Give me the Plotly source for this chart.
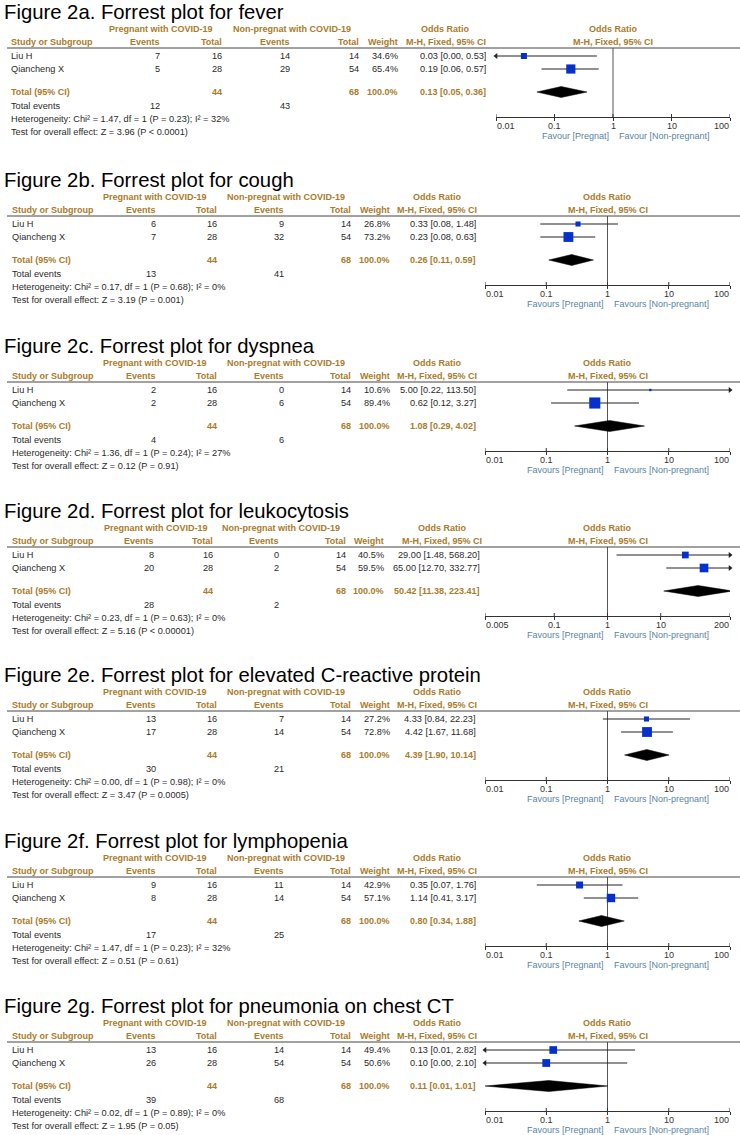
import math
import plotly.graph_objects as go

W, H = 740, 1135
FONT = "Liberation Sans, Arial, sans-serif"
BODY = "#2a2a2a"
HEAD = "#A97B2C"
FAV = "#5A84A6"
BLUE = "#0530CC"

# ---------------- data ----------------
titles = [
    "Figure 2a. Forrest plot for fever",
    "Figure 2b. Forrest plot for cough",
    "Figure 2c. Forrest plot for dyspnea",
    "Figure 2d. Forrest plot for leukocytosis",
    "Figure 2e. Forrest plot for elevated C-reactive protein",
    "Figure 2f. Forrest plot for lymphopenia",
    "Figure 2g. Forrest plot for pneumonia on chest CT",
]
studies = ["Liu H", "Qiancheng X"]
preg_events = [[7, 5], [6, 7], [2, 2], [8, 20], [13, 17], [9, 8], [13, 26]]
preg_total = [[16, 28], [16, 28], [16, 28], [16, 28], [16, 28], [16, 28], [16, 28]]
np_events = [[14, 29], [9, 32], [0, 6], [0, 2], [7, 14], [11, 14], [14, 54]]
np_total = [[14, 54], [14, 54], [14, 54], [14, 54], [14, 54], [14, 54], [14, 54]]
weights = [[34.6, 65.4], [26.8, 73.2], [10.6, 89.4], [40.5, 59.5],
           [27.2, 72.8], [42.9, 57.1], [49.4, 50.6]]
or_val = [[0.03, 0.19], [0.33, 0.23], [5.00, 0.62], [29.00, 65.00],
          [4.33, 4.42], [0.35, 1.14], [0.13, 0.10]]
ci_low = [[0.00, 0.06], [0.08, 0.08], [0.22, 0.12], [1.48, 12.70],
          [0.84, 1.67], [0.07, 0.41], [0.01, 0.00]]
ci_high = [[0.53, 0.57], [1.48, 0.63], [113.50, 3.27], [568.20, 332.77],
           [22.23, 11.68], [1.76, 3.17], [2.82, 2.10]]
sum_preg_total = [44, 44, 44, 44, 44, 44, 44]
sum_np_total = [68, 68, 68, 68, 68, 68, 68]
tot_events_preg = [12, 13, 4, 28, 30, 17, 39]
tot_events_np = [43, 41, 6, 2, 21, 25, 68]
tot_or = [0.13, 0.26, 1.08, 50.42, 4.39, 0.80, 0.11]
tot_low = [0.05, 0.11, 0.29, 11.38, 1.90, 0.34, 0.01]
tot_high = [0.36, 0.59, 4.02, 223.41, 10.14, 1.88, 1.01]
heterogeneity = [
    "Heterogeneity: Chi² = 1.47, df = 1 (P = 0.23); I² = 32%",
    "Heterogeneity: Chi² = 0.17, df = 1 (P = 0.68); I² = 0%",
    "Heterogeneity: Chi² = 1.36, df = 1 (P = 0.24); I² = 27%",
    "Heterogeneity: Chi² = 0.23, df = 1 (P = 0.63); I² = 0%",
    "Heterogeneity: Chi² = 0.00, df = 1 (P = 0.98); I² = 0%",
    "Heterogeneity: Chi² = 1.47, df = 1 (P = 0.23); I² = 32%",
    "Heterogeneity: Chi² = 0.02, df = 1 (P = 0.89); I² = 0%",
]
overall = [
    "Test for overall effect: Z = 3.96 (P &lt; 0.0001)",
    "Test for overall effect: Z = 3.19 (P = 0.001)",
    "Test for overall effect: Z = 0.12 (P = 0.91)",
    "Test for overall effect: Z = 5.16 (P &lt; 0.00001)",
    "Test for overall effect: Z = 3.47 (P = 0.0005)",
    "Test for overall effect: Z = 0.51 (P = 0.61)",
    "Test for overall effect: Z = 1.95 (P = 0.05)",
]
group1_label = ["Pregnant with COVID-19"] * 7
group2_label = ["Non-pregnat with COVID-19"] * 7
fav_left = ["Favour [Pregnat]"] + ["Favours [Pregnant]"] * 6
fav_right = ["Favour [Non-pregnant]"] + ["Favours [Non-pregnant]"] * 6
tick_vals = [[0.01, 0.1, 1, 10, 100]] * 3 + [[0.005, 0.1, 1, 10, 200]] + [[0.01, 0.1, 1, 10, 100]] * 3
tick_text = [["0.01", "0.1", "1", "10", "100"]] * 3 + [["0.005", "0.1", "1", "10", "200"]] + [["0.01", "0.1", "1", "10", "100"]] * 3

# ---------------- layout helpers ----------------
rule_y = [48, 216, 382, 547, 711, 877, 1042]
COLS_A = dict(study=10, g1=161, ev1=161, tot1=223, g2=292, ev2=291, tot2=360,
              wt=399, orc=446, orr=487, plot=(496, 730))
COLS_B = dict(study=11, g1=155, ev1=157, tot1=218, g2=286, ev2=285, tot2=352,
              wt=391, orc=437, orr=477, plot=(485, 730))
COLS_D = dict(COLS_B, g1=156, ev1=155, tot1=214, g2=281, ev2=280, tot2=347,
              wt=385, orc=442, orr=481)
PH = 69  # plot height in px (rule -> axis)

annotations = []
shapes = []
traces = []


def txt(x, y, s, anchor="left", bold=False, color=BODY, size=9.2, xref="paper"):
    annotations.append(dict(
        x=(x / W) if xref == "paper" else x, y=1 - y / H,
        xref=xref, yref="paper", text=(f"<b>{s}</b>" if bold else s),
        showarrow=False, xanchor=anchor, yanchor="middle", borderpad=0,
        font=dict(family=FONT, size=size, color=color)))


def fmt_ci(o, l, h):
    return f"{o:.2f} [{l:.2f}, {h:.2f}]"


layout_axes = {}
for k in range(7):
    R = rule_y[k]
    c = COLS_A if k == 0 else (COLS_D if k == 3 else COLS_B)
    sfx = "" if k == 0 else str(k + 1)
    xr, yr = "x" + sfx, "y" + sfx
    lo, hi = tick_vals[k][0], tick_vals[k][-1]

    # title + headers
    txt(3, R - 36, titles[k], size=20.3, color="#000")
    txt(c["g1"], R - 19, group1_label[k], "center", True, HEAD, 9)
    txt(c["g2"], R - 19, group2_label[k], "center", True, HEAD, 9)
    txt(c["orc"], R - 19, "Odds Ratio", "center", True, HEAD, 9)
    txt(c["study"], R - 6, "Study or Subgroup", "left", True, HEAD, 9)
    txt(c["ev1"], R - 6, "Events", "right", True, HEAD, 9)
    txt(c["tot1"], R - 6, "Total", "right", True, HEAD, 9)
    txt(c["ev2"], R - 6, "Events", "right", True, HEAD, 9)
    txt(c["tot2"], R - 6, "Total", "right", True, HEAD, 9)
    txt(c["wt"], R - 6, "Weight", "right", True, HEAD, 9)
    txt(c["orc"], R - 6, "M-H, Fixed, 95% CI", "center", True, HEAD, 9)
    # plot headers centred on OR = 1
    txt(0, R - 19, "Odds Ratio", "center", True, HEAD, 9, xref=xr)
    txt(0, R - 6, "M-H, Fixed, 95% CI", "center", True, HEAD, 9, xref=xr)

    shapes.append(dict(type="line", xref="paper", yref="paper", x0=7 / W, x1=1,
                       y0=1 - R / H, y1=1 - R / H, line=dict(color="#444", width=1)))

    # study rows
    row_y = [8, 21]
    for i in range(2):
        y = R + row_y[i]
        txt(c["study"], y, studies[i])
        txt(c["ev1"], y, str(preg_events[k][i]), "right")
        txt(c["tot1"], y, str(preg_total[k][i]), "right")
        txt(c["ev2"], y, str(np_events[k][i]), "right")
        txt(c["tot2"], y, str(np_total[k][i]), "right")
        txt(c["wt"], y, f"{weights[k][i]:.1f}%", "right")
        txt(c["orr"], y, fmt_ci(or_val[k][i], ci_low[k][i], ci_high[k][i]), "right")

    # totals
    yT = R + 44
    txt(c["study"], yT, "Total (95% CI)", "left", True, HEAD, 9)
    txt(c["tot1"], yT, str(sum_preg_total[k]), "right", True, HEAD, 9)
    txt(c["tot2"], yT, str(sum_np_total[k]), "right", True, HEAD, 9)
    txt(c["wt"], yT, "100.0%", "right", True, HEAD, 9)
    txt(c["orr"], yT, fmt_ci(tot_or[k], tot_low[k], tot_high[k]), "right", True, HEAD, 9)
    txt(c["study"], R + 58, "Total events")
    txt(c["ev1"], R + 58, str(tot_events_preg[k]), "right")
    txt(c["ev2"], R + 58, str(tot_events_np[k]), "right")
    txt(c["study"], R + 71, heterogeneity[k])
    txt(c["study"], R + 84, overall[k])

    # axis tick labels and favour labels
    for j, (tv, tt) in enumerate(zip(tick_vals[k], tick_text[k])):
        anc = "left" if j == 0 else ("right" if j == len(tick_vals[k]) - 1 else "center")
        txt(math.log10(tv), R + PH + 9, tt, anc, False, "#333", 9, xref=xr)
    annotations.append(dict(x=0, y=1 - (R + PH + 19) / H, xref=xr, yref="paper",
                            text=fav_left[k], showarrow=False, xanchor="right",
                            yanchor="middle", xshift=-3, borderpad=0,
                            font=dict(family=FONT, size=9, color=FAV)))
    annotations.append(dict(x=0, y=1 - (R + PH + 19) / H, xref=xr, yref="paper",
                            text=fav_right[k], showarrow=False, xanchor="left",
                            yanchor="middle", xshift=5, borderpad=0,
                            font=dict(family=FONT, size=9, color=FAV)))

    # axes
    layout_axes["xaxis" + sfx] = dict(
        domain=[c["plot"][0] / W, c["plot"][1] / W], type="log",
        range=[math.log10(lo), math.log10(hi)], anchor=yr,
        showline=True, linecolor="#333", linewidth=1, ticks="outside", ticklen=3,
        tickcolor="#333", tickvals=tick_vals[k], showticklabels=False,
        showgrid=False, zeroline=False, fixedrange=True)
    layout_axes["yaxis" + sfx] = dict(
        domain=[1 - (R + PH) / H, 1 - R / H], range=[PH, 0], anchor=xr,
        visible=False, showgrid=False, zeroline=False, fixedrange=True)

    common = dict(xaxis=xr, yaxis=yr, showlegend=False, hoverinfo="skip")
    # vertical line at OR = 1
    traces.append(go.Scatter(x=[1, 1], y=[0, PH], mode="lines",
                             line=dict(color="#555", width=1), **common))
    # upper half of tick marks
    tx, ty = [], []
    for tv in tick_vals[k]:
        tx += [tv, tv, None]
        ty += [PH - 3, PH, None]
    traces.append(go.Scatter(x=tx, y=ty, mode="lines",
                             line=dict(color="#333", width=1), **common))
    # CI lines, arrows, squares
    for i in range(2):
        y = row_y[i]
        l, h = ci_low[k][i], ci_high[k][i]
        traces.append(go.Scatter(x=[max(l, lo), min(h, hi)], y=[y, y], mode="lines",
                                 line=dict(color="#222", width=1), **common))
        if l <= lo:
            traces.append(go.Scatter(x=[lo], y=[y], mode="markers", cliponaxis=False,
                                     marker=dict(symbol="triangle-left", size=5, color="#222"),
                                     **common))
        if h >= hi:
            traces.append(go.Scatter(x=[hi], y=[y], mode="markers", cliponaxis=False,
                                     marker=dict(symbol="triangle-right", size=5, color="#222"),
                                     **common))
        sz = 1.42 * math.sqrt(weights[k][i]) - 2.3
        traces.append(go.Scatter(x=[or_val[k][i]], y=[y], mode="markers", cliponaxis=False,
                                 marker=dict(symbol="square", size=sz, color=BLUE,
                                             line=dict(width=0)), **common))
    # pooled diamond
    traces.append(go.Scatter(
        x=[tot_low[k], tot_or[k], tot_high[k], tot_or[k], tot_low[k]],
        y=[44, 44 - 5.5, 44, 44 + 5.5, 44], mode="lines", fill="toself",
        fillcolor="#000", line=dict(color="#000", width=0.5), **common))

fig = go.Figure(data=traces)
fig.update_layout(
    width=W, height=H, margin=dict(l=0, r=0, t=0, b=0),
    paper_bgcolor="white", plot_bgcolor="rgba(0,0,0,0)",
    annotations=annotations, shapes=shapes, showlegend=False,
    font=dict(family=FONT), **layout_axes)
fig.write_html("out.html", config={"displayModeBar": False},
               post_script="document.body.style.margin='0';document.body.style.overflow='hidden';")
